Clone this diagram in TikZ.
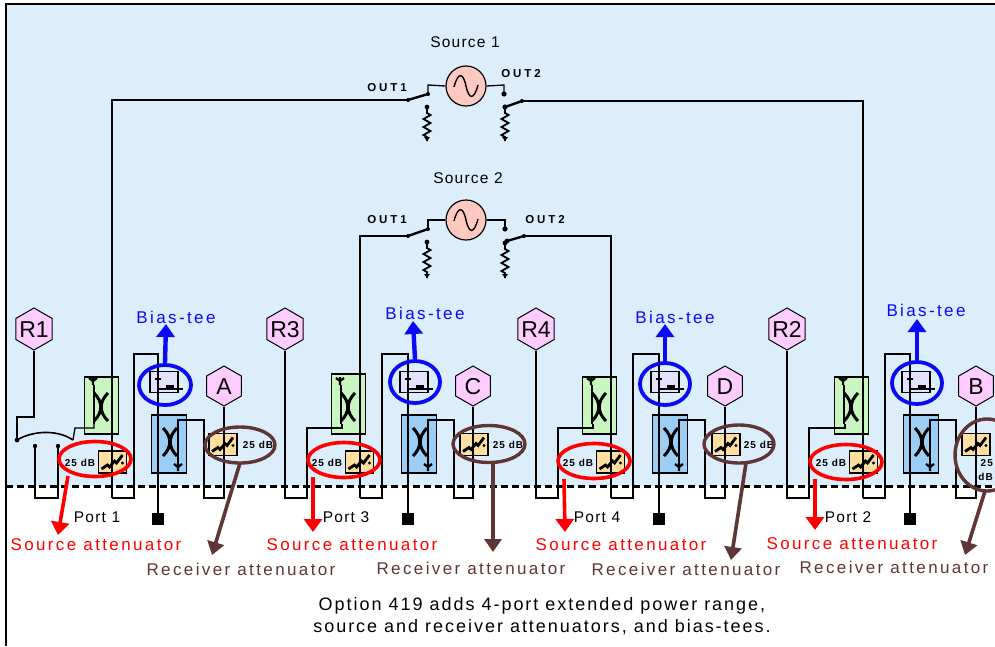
\documentclass[tikz,border=0pt]{standalone}
\usepackage{fontspec}
\setmainfont{Liberation Sans}
\newfontfamily\wide[LetterSpace=14]{Liberation Sans}
\newfontfamily\widesm[LetterSpace=8]{Liberation Sans}
\newfontfamily\widenote[LetterSpace=11]{Liberation Sans}
\newfontfamily\outf[LetterSpace=25]{Liberation Sans Bold}
\newfontfamily\dbf[LetterSpace=10]{Liberation Sans Bold}
\usetikzlibrary{shapes.geometric,arrows.meta}
\definecolor{bgblue}{HTML}{DCEEFC}
\definecolor{greenbox}{HTML}{C8F5C0}
\definecolor{bluebox}{HTML}{9CCEF5}
\definecolor{tanbox}{HTML}{FFDFA0}
\definecolor{biasbox}{HTML}{E2E2FF}
\definecolor{hexpink}{HTML}{FFCCFF}
\definecolor{srcpink}{HTML}{FFC8C0}
\definecolor{brownc}{HTML}{5F3535}
\definecolor{bluec}{HTML}{0A0AF5}
\newcommand{\hextext}[1]{\raisebox{-.36em}[0pt][0pt]{\makebox[0pt]{#1}}}
\tikzset{
  wire/.style={draw=black,line width=1.3pt},
  hexn/.style={regular polygon,regular polygon sides=6,shape border rotate=30,draw=black,line width=1pt,fill=hexpink,minimum size=42pt,inner sep=0pt,font=\fontsize{23}{23}\selectfont},
  gbox/.style={rectangle,draw=black,line width=1.1pt,fill=greenbox,minimum width=34pt,minimum height=58pt,inner sep=0pt},
  bbox/.style={rectangle,draw=black,line width=1.1pt,fill=bluebox,minimum width=35pt,minimum height=58pt,inner sep=0pt},
  tbox/.style={rectangle,draw=black,line width=1.1pt,fill=tanbox,minimum width=28pt,minimum height=22pt,inner sep=0pt},
  bibox/.style={rectangle,draw=black,line width=1.1pt,fill=biasbox,minimum width=28pt,minimum height=21pt,inner sep=0pt},
  srcn/.style={circle,draw=black,line width=1.2pt,fill=srcpink,minimum size=40pt,inner sep=0pt},
  sym/.style={draw=black,line width=3pt},
  redring/.style={draw=red,line width=3.6pt},
  brownring/.style={draw=brownc,line width=3.4pt},
  bluering/.style={draw=bluec,line width=3.8pt},
  redarrow/.style={draw=red,line width=3.6pt,-{Triangle[length=13pt,width=18pt]}},
  brownarrow/.style={draw=brownc,line width=3.6pt,-{Triangle[length=13pt,width=17pt]}},
  bluearrow/.style={draw=bluec,line width=4.4pt,-{Triangle[length=13pt,width=18pt]}},
  redtxt/.style={text=red,font=\fontsize{17}{17}\selectfont\wide,inner sep=0pt},
  browntxt/.style={text=brownc,font=\fontsize{17}{17}\selectfont\wide,inner sep=0pt},
  bluetxt/.style={text=bluec,font=\fontsize{17}{17}\selectfont\wide,inner sep=0pt},
  blacktxt/.style={text=black,font=\fontsize{15.5}{15.5}\selectfont\widesm,inner sep=0pt},
  notetxt/.style={text=black,font=\fontsize{18}{18}\selectfont\widenote,inner sep=0pt},
  outtxt/.style={text=black,font=\fontsize{11.5}{11.5}\selectfont\outf,inner sep=0pt},
  dbtxt/.style={text=black,font=\fontsize{10}{10}\selectfont\dbf,inner sep=0pt},
  squaren/.style={rectangle,fill=black,minimum size=12pt,inner sep=0pt},
}
% X shaped coupler symbol
\newcommand{\couplersym}[2]{%
  \draw[sym] ({#1-7},{#2-14}) .. controls ({#1+2},{#2-5}) and ({#1+2},{#2+5}) .. ({#1-7},{#2+14});
  \draw[sym] ({#1+7},{#2-14}) .. controls ({#1-2},{#2-5}) and ({#1-2},{#2+5}) .. ({#1+7},{#2+14});
}
% jagged attenuator symbol
\newcommand{\attnsym}[2]{%
  \draw[sym,line width=2.8pt] ({#1-11},{#2+7}) -- ({#1-5},{#2+3}) -- ({#1-3},{#2+5}) -- ({#1+2},{#2-1}) -- ({#1+4},{#2+1}) -- ({#1+10},{#2-7});
  \fill ({#1+10},{#2+1}) circle (1.6pt);
}
% small star termination
\newcommand{\starsym}[2]{%
  \draw[black,line width=2.2pt] ({#1-4},{#2-3}) -- ({#1},{#2}) -- ({#1+4},{#2-3}) ({#1},{#2-4}) -- ({#1},{#2+4});
}
% resistor to ground
\newcommand{\resist}[3]{%
  \draw[black,line width=1.8pt] (#1,#2) -- (#1,#2+6) -- (#1+3.5,#2+8) -- (#1-3.5,#2+12) -- (#1+3.5,#2+16) -- (#1-3.5,#2+20) -- (#1+3.5,#2+24) -- (#1-3.5,#2+28) -- (#1,#2+30) -- (#1,#3);
  \fill (#1,#2) circle (2.4pt);
  \fill (#1-3,#3-4) -- (#1+3,#3-4) -- (#1,#3) -- cycle;
}
% one port: #1 id, #2 green offset, #3 through-wire offset, #4 bias offset, #5 tan offset, #6 left hex x, #7 right hex x, #8 y of green top, #9 receiver tan x
\newcommand{\portmod}[9]{%
  \node[gbox,minimum height={434-#8}] (g#1) at ({#2+101.5},{(434+#8)/2}) {};
  \node[bbox] (bb#1) at ({#4+169},444) {};
  \node[bibox] (bi#1) at ({#4+164},382) {};
  \node[tbox] (ts#1) at ({#5+112.5},462) {};
  \node[tbox] (tr#1) at (#9,444.5) {};
  \couplersym{#2+101}{407}
  \couplersym{#4+170}{442}
  \attnsym{#5+112.5}{462}
  \attnsym{#9}{444.5}
  \starsym{#2+93}{381}
  \starsym{#4+178}{467}
  % bias symbol
  \draw[black,line width=2.4pt] ({#4+155},379) -- ({#4+161},379);
  \draw[black,line width=1.2pt] ({#4+158},389) -- ({#4+183},389);
  \fill ({#4+166},389) rectangle ({#4+174},385);
  % through wire and bias feed
  \coordinate (ua#1) at ({#3+112},498);
  \coordinate (ub#1) at ({#3+134},498);
  \coordinate (uc#1) at ({#3+134},354);
  \coordinate (ud#1) at ({#4+158},354);
  \node[squaren] (sq#1) at ({#4+158},519) {};
  \draw[wire] (ua#1) -- (ub#1) -- (uc#1) -- (ud#1) -- (sq#1.north);
  % receiver side
  \coordinate (ve#1) at ({#4+178},420);
  \coordinate (vf#1) at ({#4+204},420);
  \coordinate (vg#1) at ({#4+204},498);
  \coordinate (vh#1) at (#7,498);
  \coordinate (vi#1) at ({#4+178},464);
  \draw[wire] (vi#1) -- (ve#1) -- (vf#1) -- (vg#1) -- (vh#1) -- (hr#1.south);
  % green inner
  \draw[wire] ({#2+94},385) -- ({#2+94},424);
  \node[dbtxt] (dbs#1) at ({#5+80},463) {25 dB};
}
\begin{document}
\begin{tikzpicture}[x=1pt,y=-1pt]
\useasboundingbox (0,0) rectangle (995,646);
\fill[white] (0,0) rectangle (995,646);
\fill[bgblue] (6,4) rectangle (995,486);
\draw[black,line width=2pt] (6,646) -- (6,4) -- (995,4);

% sources
\node[srcn] (s1) at (466,86) {};
\node[srcn] (s2) at (466,220) {};
\foreach \cx/\yy in {466/86,466/220}{
  \draw[black,line width=1.4pt] (\cx-12,\yy+1) .. controls (\cx-8,\yy-14) and (\cx-3,\yy-14) .. (\cx,\yy) .. controls (\cx+3,\yy+14) and (\cx+8,\yy+14) .. (\cx+12,\yy-1);
}
\node[blacktxt] (ls1) at (465,42) {Source 1};
\node[blacktxt] (ls2) at (468,178) {Source 2};
\node[outtxt] (o11) at (387,88) {OUT1};
\node[outtxt] (o12) at (521,74) {OUT2};
\node[outtxt] (o21) at (387,220) {OUT1};
\node[outtxt] (o22) at (545,220) {OUT2};

% hexagons
\node[hexn] (hlA) at (34,329) {\hextext{R1}};
\node[hexn] (hlB) at (285,329) {\hextext{R3}};
\node[hexn] (hlC) at (536,329) {\hextext{R4}};
\node[hexn] (hlD) at (787,329) {\hextext{R2}};
\node[hexn,minimum size=40pt] (hrA) at (224,386) {\hextext{A}};
\node[hexn,minimum size=40pt] (hrB) at (473,386) {\hextext{C}};
\node[hexn,minimum size=40pt] (hrC) at (725,386) {\hextext{D}};
\node[hexn,minimum size=40pt] (hrD) at (976,386) {\hextext{B}};

\portmod{A}{0}{0}{0}{0}{34}{224}{377}{223}
\portmod{B}{247}{248}{250}{247}{285}{473}{374}{474}
\portmod{C}{498}{499}{501}{498}{536}{725}{377}{726}
\portmod{D}{750}{751}{752}{751}{787}{976}{377}{976}

% source 1 routing
\coordinate (a1) at (112,100); \coordinate (a2) at (408,100);
\coordinate (a3) at (428,94); \coordinate (a4) at (428,85);
\draw[wire] (uaA) -- (a1) -- (a2);
\draw[black,line width=2.4pt] (a2) -- (a3);
\draw[wire] (a3) -- (a4) -- (s1.west);
\fill (a2) circle (2pt) (a3) circle (2pt);
\resist{427}{107}{141}
\coordinate (b1) at (504,85); \coordinate (b2) at (504,94);
\coordinate (b3) at (505,107); \coordinate (b4) at (522,101); \coordinate (b5) at (863,101);
\draw[wire] (s1.east) -- (b1) -- (b2);
\fill (b2) circle (2.6pt);
\draw[black,line width=2.4pt] (b3) -- (b4);
\fill (b3) circle (2.4pt) (b4) circle (2pt);
\draw[wire] (b4) -- (b5) -- (uaD);
\resist{505}{107}{141}

% source 2 routing
\coordinate (c1) at (360,236); \coordinate (c2) at (408,236);
\coordinate (c3) at (428,229); \coordinate (c4) at (428,220);
\draw[wire] (uaB) -- (c1) -- (c2);
\draw[black,line width=2.4pt] (c2) -- (c3);
\draw[wire] (c3) -- (c4) -- (s2.west);
\fill (c2) circle (2pt) (c3) circle (2pt);
\resist{427}{242}{278}
\coordinate (d1) at (505,220); \coordinate (d2) at (505,229);
\coordinate (d3) at (507,241); \coordinate (d4) at (524,236); \coordinate (d5) at (611,236);
\draw[wire] (s2.east) -- (d1) -- (d2);
\fill (d2) circle (2.6pt);
\draw[black,line width=2.4pt] (d3) -- (d4);
\fill (d3) circle (2.4pt) (d4) circle (2pt);
\draw[wire] (d4) -- (d5) -- (uaC);
\resist{505}{243}{278}

% R1 wiring with switch
\coordinate (r1a) at (34,417); \coordinate (r1b) at (17,417); \coordinate (r1c) at (17,440);
\coordinate (r1d) at (73,440); \coordinate (r1e) at (75,428); \coordinate (r1f) at (94,428);
\coordinate (r1g) at (35,446); \coordinate (r1h) at (35,498); \coordinate (r1i) at (58,498); \coordinate (r1j) at (58,446);
\draw[wire] (hlA.south) -- (r1a) -- (r1b) -- (r1c);
\draw[wire,line width=1.6pt] (r1c) .. controls (30,432) and (55,428) .. (r1d);
\draw[wire] (r1d) -- (r1e) -- (r1f) -- (94,424);
\draw[wire] (r1g) -- (r1h) -- (r1i) -- (r1j);
\fill (r1c) circle (2.4pt) (r1g) circle (2.2pt) (r1j) circle (2.2pt);

% R3, R4, R2 wiring
\foreach \n/\hx/\gx in {B/285/342,C/536/593,D/787/845}{
  \coordinate (l1\n) at (\hx,498);
  \coordinate (l2\n) at (\hx+22,498);
  \coordinate (l3\n) at (\hx+22,428);
  \coordinate (l4\n) at (\gx,428);
  \draw[wire] (hl\n.south) -- (l1\n) -- (l2\n) -- (l3\n) -- (l4\n) -- (\gx,424);
}

% dashed boundary
\coordinate (da) at (6,486); \coordinate (db) at (995,486);
\draw[black,line width=3pt,dash pattern=on 7pt off 4pt] (da) -- (db);

% 25 dB receiver labels
\node[dbtxt] (dbA) at (258,445) {25 dB};
\node[dbtxt] (dbB) at (508,445) {25 dB};
\node[dbtxt] (dbC) at (759,445) {25 dB};
\node[dbtxt,anchor=east] (dbD1) at (993,463) {25};
\node[dbtxt,anchor=east] (dbD2) at (993,477) {dB};

% bias rings
\node[ellipse,bluering,minimum width=52pt,minimum height=40pt,inner sep=0pt] (brA) at (165,385) {};
\node[ellipse,bluering,minimum width=50pt,minimum height=42pt,inner sep=0pt] (brB) at (415,382) {};
\node[ellipse,bluering,minimum width=50pt,minimum height=42pt,inner sep=0pt] (brC) at (665,384) {};
\node[ellipse,bluering,minimum width=50pt,minimum height=42pt,inner sep=0pt] (brD) at (917,383) {};
\coordinate (baA) at (166,324); \coordinate (baB) at (413,321); \coordinate (baC) at (665,324); \coordinate (baD) at (917,319);
\foreach \n in {A,B,C,D} \draw[bluearrow] (br\n.north) -- (ba\n);

% red rings
\node[ellipse,redring,minimum width=72pt,minimum height=35pt,inner sep=0pt] (rrA) at (95,459) {};
\node[ellipse,redring,minimum width=72pt,minimum height=35pt,inner sep=0pt] (rrB) at (344,460) {};
\node[ellipse,redring,minimum width=72pt,minimum height=35pt,inner sep=0pt] (rrC) at (594,461) {};
\node[ellipse,redring,minimum width=72pt,minimum height=35pt,inner sep=0pt] (rrD) at (846,462) {};
\coordinate (raA) at (58,535); \coordinate (raB) at (313,532); \coordinate (raC) at (565,532); \coordinate (raD) at (815,530);
\coordinate (rsA) at (68,476); \coordinate (rsB) at (313,477); \coordinate (rsC) at (564,479); \coordinate (rsD) at (815,479);
\foreach \n in {A,B,C,D} \draw[redarrow] (rs\n) -- (ra\n);

% brown rings
\node[ellipse,brownring,minimum width=70pt,minimum height=36pt,inner sep=0pt] (wrA) at (240,445) {};
\node[ellipse,brownring,minimum width=72pt,minimum height=37pt,inner sep=0pt] (wrB) at (489,444) {};
\node[ellipse,brownring,minimum width=70pt,minimum height=38pt,inner sep=0pt] (wrC) at (739,444) {};
\begin{scope}
\clip (940,400) rectangle (995,510);
\node[ellipse,brownring,minimum width=64pt,minimum height=72pt,inner sep=0pt] (wrD) at (987,455) {};
\end{scope}
\coordinate (waA) at (212,555); \coordinate (waB) at (493,552); \coordinate (waC) at (731,560); \coordinate (waD) at (965,555);
\coordinate (wsA) at (240,463); \coordinate (wsB) at (493,463); \coordinate (wsC) at (746,463); \coordinate (wsD) at (985,491);
\foreach \n in {A,B,C,D} \draw[brownarrow] (ws\n) -- (wa\n);

% labels
\node[bluetxt] (tbA) at (176,317) {Bias-tee};
\node[bluetxt] (tbB) at (425,313) {Bias-tee};
\node[bluetxt] (tbC) at (675,317) {Bias-tee};
\node[bluetxt] (tbD) at (926,310) {Bias-tee};
\node[blacktxt] (pA) at (97,517) {Port 1};
\node[blacktxt] (pB) at (346,517) {Port 3};
\node[blacktxt] (pC) at (597,517) {Port 4};
\node[blacktxt] (pD) at (848,517) {Port 2};
\node[redtxt] (saA) at (96,545) {Source attenuator};
\node[redtxt] (saB) at (352,545) {Source attenuator};
\node[redtxt] (saC) at (621,545) {Source attenuator};
\node[redtxt] (saD) at (852,544) {Source attenuator};
\node[browntxt] (raTA) at (241,569) {Receiver attenuator};
\node[browntxt] (raTB) at (471,568) {Receiver attenuator};
\node[browntxt] (raTC) at (686,569) {Receiver attenuator};
\node[browntxt] (raTD) at (894,567) {Receiver attenuator};
\node[notetxt] (n1) at (542,606) {Option 419 adds 4-port extended power range,};
\node[notetxt] (n2) at (542,627) {source and receiver attenuators, and bias-tees.};
\end{tikzpicture}
\end{document}
